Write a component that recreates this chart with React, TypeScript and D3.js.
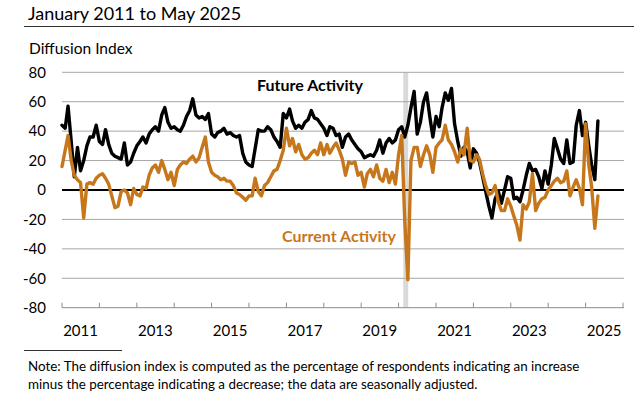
import React from 'react'
import * as d3 from 'd3'

// monthly diffusion index, Jan 2011 .. May 2025
const futureActivity = [
  44, 42, 57, 33, 9, 29, 13, 20, 30, 36, 36, 44,
  33, 31, 41, 31, 25, 23, 22, 21, 32, 17, 19, 25,
  30, 33, 36, 32, 38, 41, 43, 40, 51, 56, 46, 42,
  43, 41, 40, 44, 50, 54, 62, 51, 49, 50, 48, 52,
  38, 36, 39, 40, 42, 38, 39, 37, 36, 37, 25, 19,
  17, 16, 28, 41, 40, 40, 43, 41, 36, 33, 29, 52,
  49, 55, 47, 42, 44, 42, 46, 48, 54, 49, 48, 45,
  42, 37, 43, 42, 37, 38, 29, 36, 38, 34, 31, 28,
  26, 22, 23, 24, 23, 27, 34, 25, 32, 35, 32, 34,
  41, 43, 36, 44, 56, 67, 38, 46, 60, 66, 50, 36,
  50, 43, 56, 66, 61, 69, 45, 33, 23, 29, 26, 15,
  28, 25, 19, 9, -1, -11, -19, -6, -1, -9, 0, 9,
  8, -6, -5, -8, 0, 10, 18, 13, 14, 9, 1, 13,
  4, 17, 35, 28, 21, 18, 34, 18, 19, 44, 54, 37,
  46, 30, 17, 7, 47,
]

const currentActivity = [
  16, 27, 37, 20, 10, 7, 5, -19, 4, 5, 4, 8,
  10, 11, 8, 4, -4, -12, -11, -1, 0, -2, -10, 1,
  -3, -4, 2, 1, 10, 15, 17, 12, 20, 14, 7, 12,
  3, 14, 17, 19, 18, 21, 23, 19, 22, 29, 36, 19,
  12, 10, 9, 7, 8, 6, 6, 3, -2, -3, -5, -7,
  -4, -4, 8, -1, -4, 3, 5, 9, 13, 14, 20, 27,
  42, 30, 35, 26, 31, 24, 21, 22, 25, 27, 24, 32,
  24, 31, 25, 29, 32, 27, 21, 10, 19, 18, 19, 10,
  12, 2, 11, 14, 9, 17, 8, 6, 14, 5, 12, 4,
  24, 37, -20, -61, 20, 29, 29, 16, 24, 30, 24, 12,
  29, 32, 34, 44, 34, 31, 26, 19, 28, 24, 42, 20,
  19, 24, 21, 11, 3, -3, -2, 3, -8, -14, -14, -6,
  -11, -18, -24, -34, -10, -13, -8, 11, -14, -9, -6, -5,
  0, 3, 6, 8, 5, 6, 13, -4, 2, 7, 1, -10,
  45, 17, 2, -26, -4,
]

const yTicks = [80, 60, 40, 20, 0, -20, -40, -60, -80]
const yearTicks = d3.range(2011, 2027)
const yearLabels = [2011, 2013, 2015, 2017, 2019, 2021, 2023, 2025]
const recession = [new Date(2020, 1, 16), new Date(2020, 3, 4)]

const months = d3.timeMonth.range(new Date(2011, 0, 1), new Date(2025, 5, 1))

const font = 'Lato, "Open Sans", sans-serif'
const orange = '#c7771b'

export default function App() {
  const width = 644
  const height = 398
  const plot = { left: 62, right: 623, top: 72.3, bottom: 307.7 }

  const x = d3.scaleTime()
    .domain([new Date(2011, 0, 1), new Date(2026, 0, 1)])
    .range([plot.left, plot.right])
  const y = d3.scaleLinear()
    .domain([-80, 80])
    .range([plot.bottom, plot.top])

  const line = d3.line<number>()
    .x((d, i) => x(months[i]))
    .y(d => y(d))

  return (
    <svg width={width} height={height}
      style={{ position: 'absolute', left: 0, top: 0, background: '#fff' }}
      fontFamily={font}>
      <text x={28} y={20} fontSize={18} fill="#000">January 2011 to May 2025</text>
      <line x1={24} x2={634} y1={26.5} y2={26.5} stroke="#333" strokeWidth={1} />
      <text x={29} y={54} fontSize={15.5} fill="#000">Diffusion Index</text>

      {/* recession band */}
      <rect x={x(recession[0])} width={x(recession[1]) - x(recession[0])}
        y={plot.top} height={plot.bottom - plot.top} fill="#d9d9d9" />

      {/* gridlines */}
      {yTicks.filter(t => t !== 0 && t !== -80).map(t => (
        <line key={t} x1={plot.left} x2={plot.right + 1} y1={y(t)} y2={y(t)}
          stroke="#a6a6a6" strokeWidth={1} />
      ))}
      {yTicks.map(t => (
        <text key={'l' + t} x={46} y={y(t)} dy="0.35em" textAnchor="end"
          fontSize={15} fill="#000">{t}</text>
      ))}

      {/* x axis */}
      <line x1={plot.left} x2={plot.right + 1} y1={y(-80)} y2={y(-80)} stroke="#8c8c8c" strokeWidth={1} />
      {yearTicks.map(yr => (
        <line key={yr} x1={x(new Date(yr, 0, 1))} x2={x(new Date(yr, 0, 1))}
          y1={y(-80)} y2={y(-80) - 5} stroke="#8c8c8c" strokeWidth={1} />
      ))}
      {yearLabels.map(yr => (
        <text key={yr} x={x(new Date(yr, 6, 1))} y={336} textAnchor="middle"
          fontSize={15} fill="#000">{yr}</text>
      ))}

      <line x1={plot.left} x2={plot.right + 1} y1={y(0)} y2={y(0)} stroke="#000" strokeWidth={2} />

      <path d={line(futureActivity) || ''} fill="none" stroke="#000" strokeWidth={3.4}
        strokeLinejoin="round" strokeLinecap="round" />
      <path d={line(currentActivity) || ''} fill="none" stroke={orange} strokeWidth={3.4}
        strokeLinejoin="round" strokeLinecap="round" />

      <text x={310} y={91} textAnchor="middle" fontSize={16} fontWeight="bold" fill="#000">Future Activity</text>
      <text x={339} y={242} textAnchor="middle" fontSize={16} fontWeight="bold" fill={orange}>Current Activity</text>

      {/* note */}
      <line x1={24} x2={122} y1={350.5} y2={350.5} stroke="#333" strokeWidth={1} />
      <text x={28} y={371} fontSize={13.4} fill="#000">
        Note: The diffusion index is computed as the percentage of respondents indicating an increase
      </text>
      <text x={28} y={389} fontSize={13.4} fill="#000">
        minus the percentage indicating a decrease; the data are seasonally adjusted.
      </text>
    </svg>
  )
}
